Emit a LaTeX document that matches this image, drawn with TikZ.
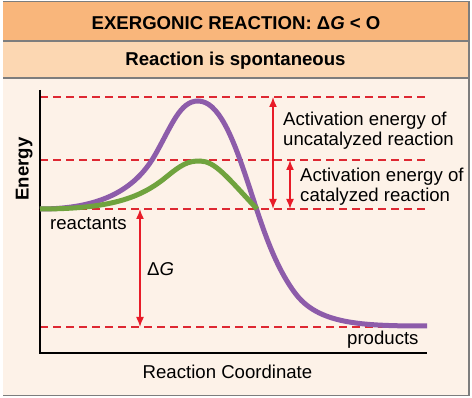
\documentclass[tikz,border=0pt]{standalone}
\usepackage{fontspec}
\setmainfont{Liberation Sans}
\usetikzlibrary{arrows,arrows.meta}
\usetikzlibrary{positioning}
\definecolor{hdr}{RGB}{249,182,123}
\definecolor{subhdr}{RGB}{252,215,178}
\definecolor{paper}{RGB}{253,242,232}
\definecolor{framegray}{RGB}{125,125,125}
\definecolor{lvlred}{RGB}{222,40,50}
\definecolor{arrred}{RGB}{232,28,40}
\definecolor{uncat}{RGB}{141,92,170}
\definecolor{cat}{RGB}{112,163,62}
\newcommand{\lblsize}{\fontsize{18.6}{20}\selectfont}

\begin{document}
\begin{tikzpicture}[x=1pt,y=-1pt]
                \tikzstyle{every node}=[inner sep=0pt,font=\lblsize]
                \tikzstyle{lbl}=[anchor=base west,align=left]
                \tikzstyle{levelline}=[lvlred,dash pattern=on 8pt off 5pt,line width=1.6pt]
                \tikzstyle{barrier}=[arrred,line width=1.5pt,{Latex[length=10pt,width=8pt]}-{Latex[length=10pt,width=8pt]}]
                \tikzstyle{curve}=[line width=5pt]

                \useasboundingbox (0,0) rectangle (472,398);
                \fill[white] (0,0) rectangle (472,398);
                \fill[paper] (3,2) rectangle (469,395);
                \fill[hdr] (3,2) rectangle (469,41);
                \fill[subhdr] (3,41) rectangle (469,78);
                \draw[framegray,line width=1.5pt] (3,1.5) -- (469,1.5) (3,41) -- (469,41)
                    (3,78) -- (469,78) (469,1.5) -- (469,395.5) -- (3,395.5);

                \node[anchor=base,font=\lblsize\bfseries] (title) at (236,29.5) {EXERGONIC REACTION: Δ\textit{G} < O};
                \node[anchor=base,font=\lblsize\bfseries] (subtitle) at (235.5,66) {Reaction is spontaneous};

                % energy levels
                \coordinate (top) at (40,97);
                \coordinate (mid) at (40,160);
                \coordinate (react) at (40,209);
                \coordinate (prod) at (40,327);
                \draw[levelline] (top) -- +(387,0);
                \draw[levelline] (mid) -- +(387,0);
                \draw[levelline] (react) -- +(387,0);
                \draw[levelline] (prod) -- +(387,0);

                % axes
                \coordinate (ytop) at (40,90);
                \coordinate (origin) at (40,353);
                \coordinate (xend) at (427,353);
                \draw[line width=2.5pt] (ytop) -- (origin) -- (xend);

                % curves
                \draw[uncat,curve] (react) .. controls (100,209) and (135,190) .. (155,155)
                    .. controls (172,125) and (180,101) .. (198,101)
                    .. controls (218,101) and (232,135) .. (247,180)
                    .. controls (260,219) and (272,262) .. (295,293)
                    .. controls (318,324) and (360,326) .. (427,326);
                \draw[cat,curve] (react) .. controls (110,209) and (140,198) .. (165,178)
                    .. controls (182,164) and (188,161) .. (200,161)
                    .. controls (215,161) and (228,178) .. (257,209);

                % arrows
                \coordinate (ua) at (273,97);
                \coordinate (ub) at (273,209);
                \coordinate (ca) at (290,160);
                \coordinate (cb) at (290,209);
                \coordinate (ga) at (140,209);
                \coordinate (gb) at (140,327);
                \draw[barrier] (ua) -- (ub);
                \draw[barrier] (ca) -- (cb);
                \draw[barrier] (ga) -- (gb);

                % labels
                \node[lbl] (uclbl) at (283,146) {Activation energy of\\uncatalyzed reaction};
                \node[lbl] (clbl) at (300,201.7) {Activation energy of\\catalyzed reaction};
                \node[lbl] (reactants) at (50,230) {reactants};
                \node[lbl] (products) at (347,345) {products};
                \node[lbl] (dG) at (147,276) {Δ\textit{G}};
                \node[anchor=base] (xlbl) at (227.5,379) {Reaction Coordinate};
                \node[anchor=base,rotate=90,font=\lblsize\bfseries] (ylbl) at (28.5,169) {Energy};
            \end{tikzpicture}
\end{document}
